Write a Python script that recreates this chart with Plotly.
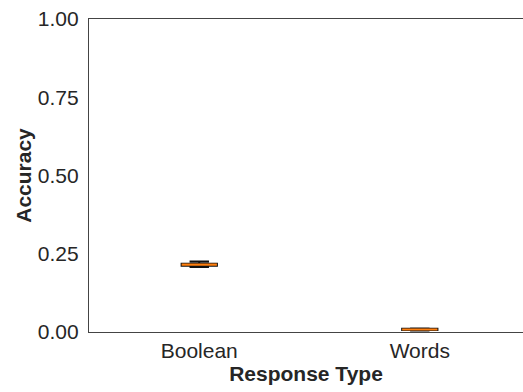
import plotly.graph_objects as go

categories = ["Boolean", "Words"]
q1 = [0.212, 0.006]
median = [0.215, 0.008]
q3 = [0.218, 0.010]
lower = [0.208, 0.005]
upper = [0.225, 0.011]
tick_vals = [0, 0.25, 0.5, 0.75, 1.0]
tick_text = ["0.00", "0.25", "0.50", "0.75", "1.00"]

fig = go.Figure()
fig.add_trace(go.Box(
    x=categories, q1=q1, median=median, q3=q3,
    lowerfence=lower, upperfence=upper,
    width=0.16, whiskerwidth=0.55,
    line=dict(color="#111111", width=2),
    fillcolor="rgba(0,0,0,0)", boxpoints=False, showlegend=False,
))
fig.add_trace(go.Box(
    x=categories, q1=median, median=median, q3=median,
    lowerfence=median, upperfence=median,
    width=0.16, whiskerwidth=0,
    line=dict(color="#ff7f0e", width=2.2),
    fillcolor="rgba(0,0,0,0)", boxpoints=False, showlegend=False,
))

font_family = "Liberation Sans, Arial, sans-serif"
fig.update_layout(
    width=523, height=392,
    margin=dict(l=89, r=0, t=19, b=60),
    plot_bgcolor="white", paper_bgcolor="white",
    font=dict(family=font_family, size=21, color="#262626"),
    xaxis=dict(
        type="category", range=[-0.5, 1.468],
        showgrid=False, showline=True, linecolor="#444444", linewidth=1.3,
        mirror=True, ticks="",
        title=dict(text="<b>Response Type</b>", standoff=0, font=dict(size=21, color="#262626")),
    ),
    yaxis=dict(
        range=[0, 1], tickvals=tick_vals, ticktext=tick_text,
        showgrid=False, showline=True, linecolor="#444444", linewidth=1.3,
        zeroline=False, ticks="outside", ticklen=5, tickcolor="white",
        title=dict(text="<b>Accuracy</b>", standoff=0, font=dict(size=21, color="#262626")),
    ),
)
fig.write_html("out.html")
